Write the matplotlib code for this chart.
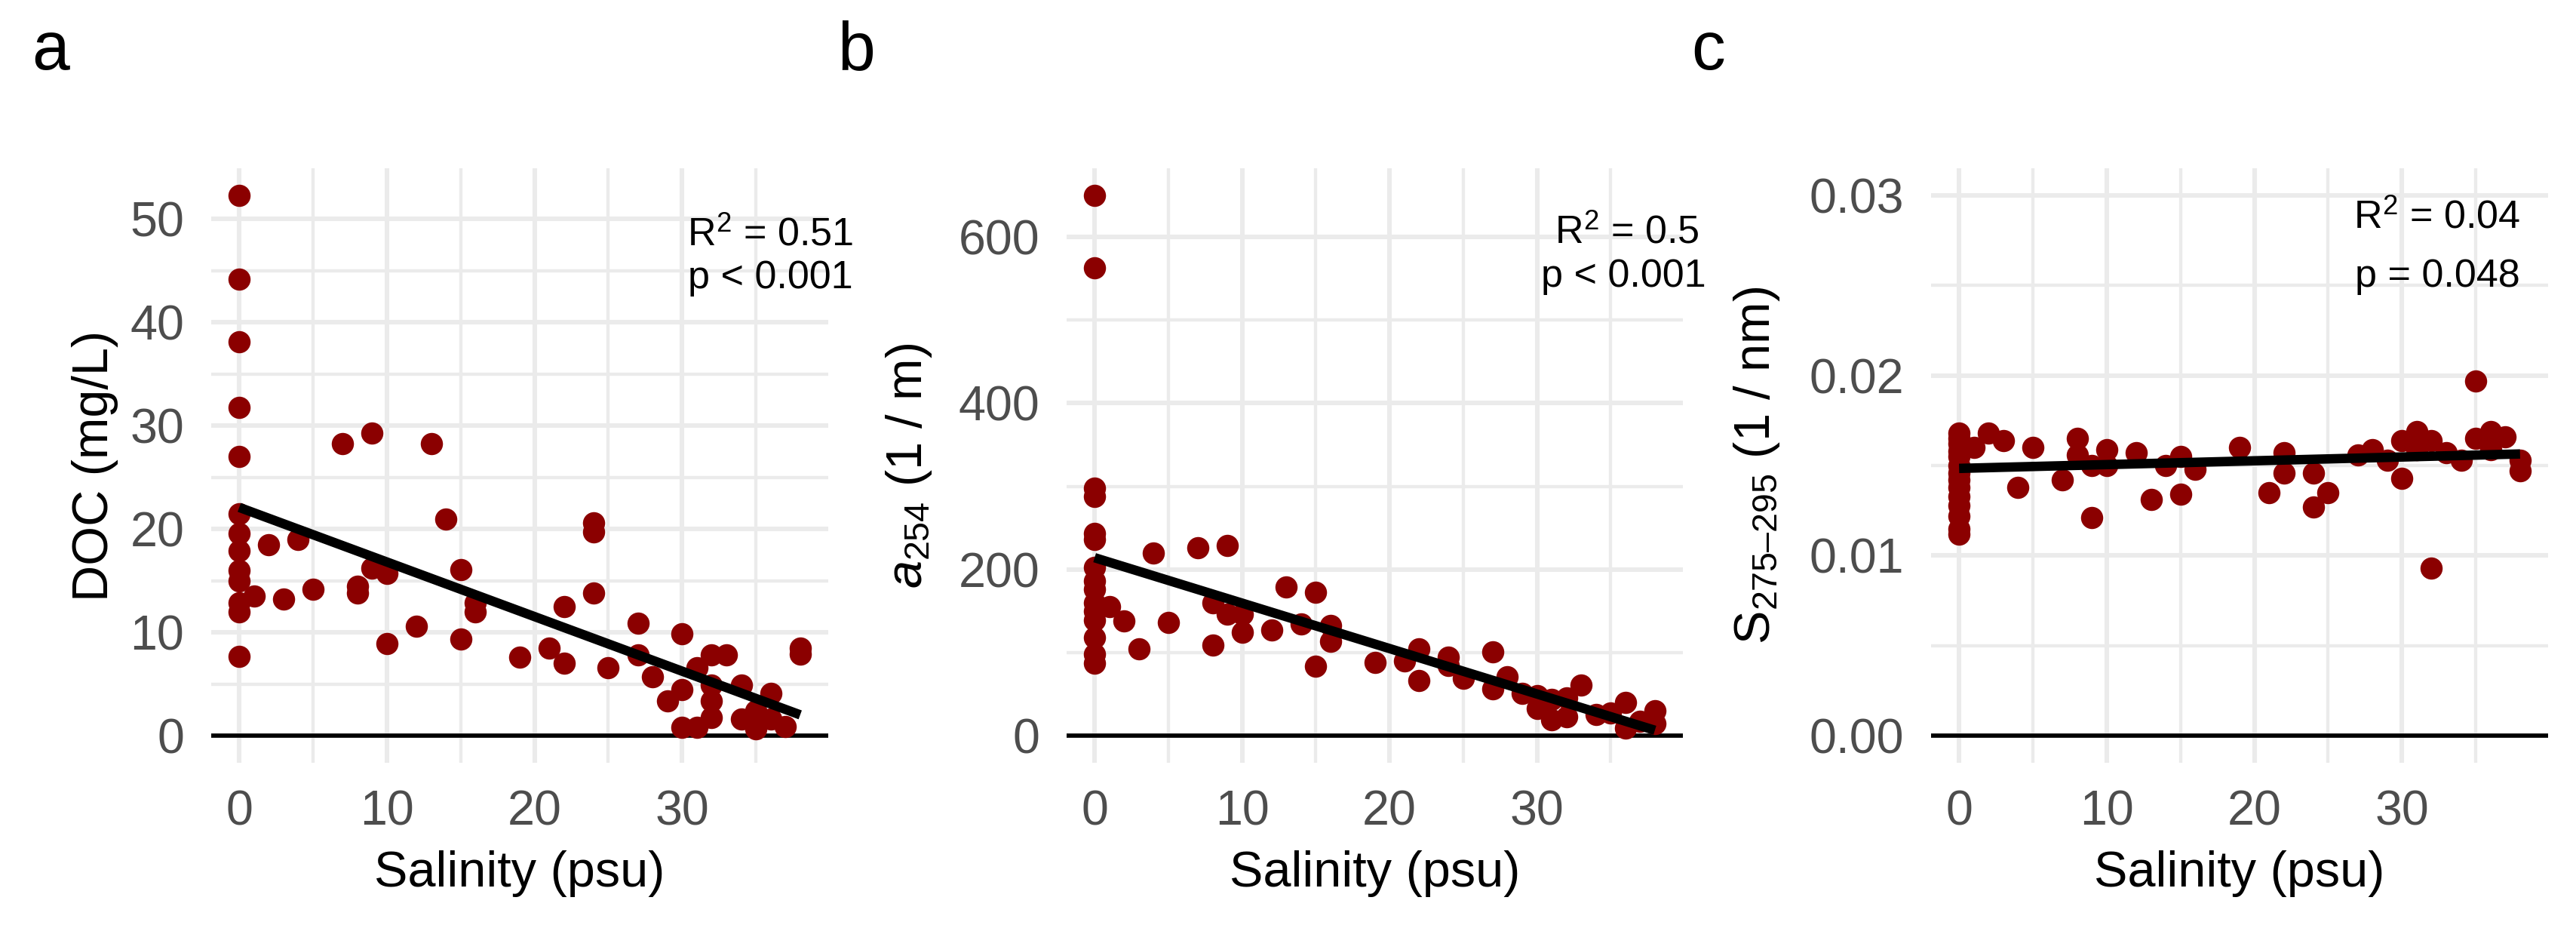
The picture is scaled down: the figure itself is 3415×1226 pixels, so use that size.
import numpy as np
import matplotlib
matplotlib.use("Agg")
import matplotlib.pyplot as plt
from matplotlib.ticker import FormatStrFormatter

plt.rcParams["font.family"] = ["Liberation Sans", "DejaVu Sans"]
plt.rcParams["mathtext.fontset"] = "custom"
plt.rcParams["mathtext.rm"] = "Liberation Sans"
plt.rcParams["mathtext.it"] = "Liberation Sans:italic"

# --- data ---
# panel a: DOC (mg/L) vs salinity
sal_a = [0, 0, 0, 0, 0, 0, 0, 0, 0, 0, 0, 0, 0,
         1, 2, 3, 4, 5, 7, 8, 8, 9, 9, 10, 10, 12, 13, 14, 15, 15, 16, 16,
         19, 21, 22, 22, 24, 24, 24, 25, 27, 27, 28, 29, 30, 30, 30, 31, 31,
         32, 32, 32, 32, 33, 34, 34, 35, 35, 36, 36, 37, 38, 38]
doc = [52.3, 44.2, 38.1, 31.8, 27.0, 21.5, 19.6, 17.9, 16.0, 15.0, 12.9, 12.0, 7.7,
       13.5, 18.5, 13.2, 19.0, 14.2, 28.3, 14.5, 13.8, 29.3, 16.2, 15.7, 8.9, 10.6,
       28.3, 21.0, 16.1, 9.4, 12.9, 12.0,
       7.6, 8.5, 12.5, 7.0, 20.6, 19.7, 13.8, 6.6, 10.9, 7.8, 5.7, 3.4, 9.9, 4.5,
       0.8, 6.6, 0.8, 7.8, 3.4, 1.8, 4.9, 7.8, 4.9, 1.6, 2.4, 0.7, 4.1, 1.6, 0.9,
       8.5, 7.9]
fit_a = (22.1, -0.528)  # intercept, slope

# panel b: a254 (1/m) vs salinity
sal_b = [0, 0, 0, 0, 0, 0, 0, 0, 0, 0, 0, 0, 0, 0, 0,
         1, 2, 3, 4, 5, 7, 8, 8, 9, 9, 10, 10, 12, 13, 14, 15, 15, 16, 16,
         19, 21, 22, 22, 24, 24, 25, 27, 27, 28, 29, 30, 30, 31, 31, 32, 32,
         33, 34, 35, 36, 36, 37, 38, 38]
a254 = [650, 563, 298, 288, 243, 236, 202, 186, 176, 160, 150, 139, 118, 98, 87,
        155, 138, 104, 220, 136, 226, 160, 109, 229, 146, 146, 124, 127, 179, 134,
        172, 83, 132, 113,
        88, 90, 104, 66, 94, 84, 69, 101, 56, 71, 51, 48, 32, 43, 19, 45, 22,
        61, 25, 27, 40, 9, 17, 30, 14]
fit_b = (214.0, -5.47)

# panel c: S275-295 (1/nm) vs salinity
sal_c = [0, 0, 0, 0, 0, 0, 0, 0, 0, 0, 0, 0, 0, 0,
         1, 2, 3, 4, 5, 7, 8, 8, 9, 9, 10, 10, 12, 13, 14, 15, 15, 16,
         19, 21, 22, 22, 24, 24, 25, 27, 28, 29, 30, 30, 31, 31, 32, 32,
         33, 34, 35, 35, 36, 36, 37, 38, 38]
s275 = [0.0168, 0.0165, 0.0162, 0.0158, 0.0155, 0.0150, 0.0146, 0.0142, 0.0138,
        0.0133, 0.0128, 0.0122, 0.0115, 0.0112,
        0.0160, 0.0168, 0.0164, 0.0138, 0.0160, 0.0142, 0.0165, 0.0156, 0.0150,
        0.0121, 0.0159, 0.0150, 0.0157, 0.0131, 0.0150, 0.0155, 0.0134, 0.0148,
        0.0160, 0.0135, 0.0157, 0.0146, 0.0146, 0.0127, 0.0135, 0.0156, 0.0159,
        0.0153, 0.0164, 0.0143, 0.0169, 0.0159, 0.0164, 0.0093,
        0.0157, 0.0153, 0.0197, 0.0165, 0.0169, 0.0159, 0.0166, 0.0153, 0.0147]
fit_c = (0.01484, 0.0000211)

W, H, DPI = 3415, 1226, 300
fig = plt.figure(figsize=(W / DPI, H / DPI), dpi=DPI)


def make_axes(left, top, right, bottom):
    return fig.add_axes([left / W, 1 - bottom / H, (right - left) / W, (bottom - top) / H])


panels = [
    dict(box=(280, 223, 1098, 1011), x=sal_a, y=doc, fit=fit_a, ylim=(-2.6, 54.9),
         yt=[0, 10, 20, 30, 40, 50], ym=[5, 15, 25, 35, 45], fmt=None,
         ylabel="DOC (mg/L)", ylab_x=-0.1675,
         stats=[("R$^{2}$ = 0.51", 1131, 325), ("p < 0.001", 1131, 382)],
         tag=("a", 42)),
    dict(box=(1414, 223, 2231, 1011), x=sal_b, y=a254, fit=fit_b, ylim=(-33, 683),
         yt=[0, 200, 400, 600], ym=[100, 300, 500], fmt=None,
         ylabel=r"$\mathit{a}_{254}$ (1 / m)", ylab_x=-0.235,
         stats=[("R$^{2}$ = 0.5", 2253, 322), ("p < 0.001", 2262, 380)],
         tag=("b", 1110)),
    dict(box=(2560, 223, 3378, 1011), x=sal_c, y=s275, fit=fit_c, ylim=(-0.0015, 0.0315),
         yt=[0, 0.01, 0.02, 0.03], ym=[0.005, 0.015, 0.025], fmt="%.2f",
         ylabel="S$_{275–295}$ (1 / nm)", ylab_x=-0.2616,
         stats=[("R$^{2}$ = 0.04", 3341, 302), ("p = 0.048", 3341, 380)],
         tag=("c", 2242)),
]

for p in panels:
    ax = make_axes(*p["box"])
    ax.set_xlim(-1.9, 39.9)
    ax.set_ylim(*p["ylim"])
    ax.set_xticks([0, 10, 20, 30])
    ax.set_xticks([5, 15, 25, 35], minor=True)
    ax.set_yticks(p["yt"])
    ax.set_yticks(p["ym"], minor=True)
    if p["fmt"]:
        ax.yaxis.set_major_formatter(FormatStrFormatter(p["fmt"]))
    ax.grid(which="major", color="#EBEBEB", lw=1.45)
    ax.grid(which="minor", color="#EBEBEB", lw=1.05)
    ax.set_axisbelow(True)
    for s in ax.spines.values():
        s.set_visible(False)
    ax.tick_params(which="both", length=0, labelsize=15.5, labelcolor="#4D4D4D", pad=8.6)

    ax.axhline(0, color="black", lw=1.36, zorder=1.5)
    ax.scatter(p["x"], p["y"], s=50, color="#8B0000", linewidths=0, zorder=2)
    xx = np.array([min(p["x"]), max(p["x"])], dtype=float)
    b0, b1 = p["fit"]
    ax.plot(xx, b0 + b1 * xx, color="black", lw=3.0, solid_capstyle="butt", zorder=3)

    ax.set_xlabel("Salinity (psu)", fontsize=16, labelpad=4.8)
    ax.set_ylabel(p["ylabel"], fontsize=16)
    ax.yaxis.label.set_va("baseline")
    ax.yaxis.set_label_coords(p["ylab_x"], 0.5)

    for txt, xr, yb in p["stats"]:
        fig.text(xr / W, 1 - yb / H, txt, ha="right", va="baseline", fontsize=12.5)

    letter, lx = p["tag"]
    fig.text(lx / W, 1 - 92 / H, letter, ha="left", va="baseline", fontsize=21.5)

fig.savefig("out.png", dpi=DPI, facecolor="white")
